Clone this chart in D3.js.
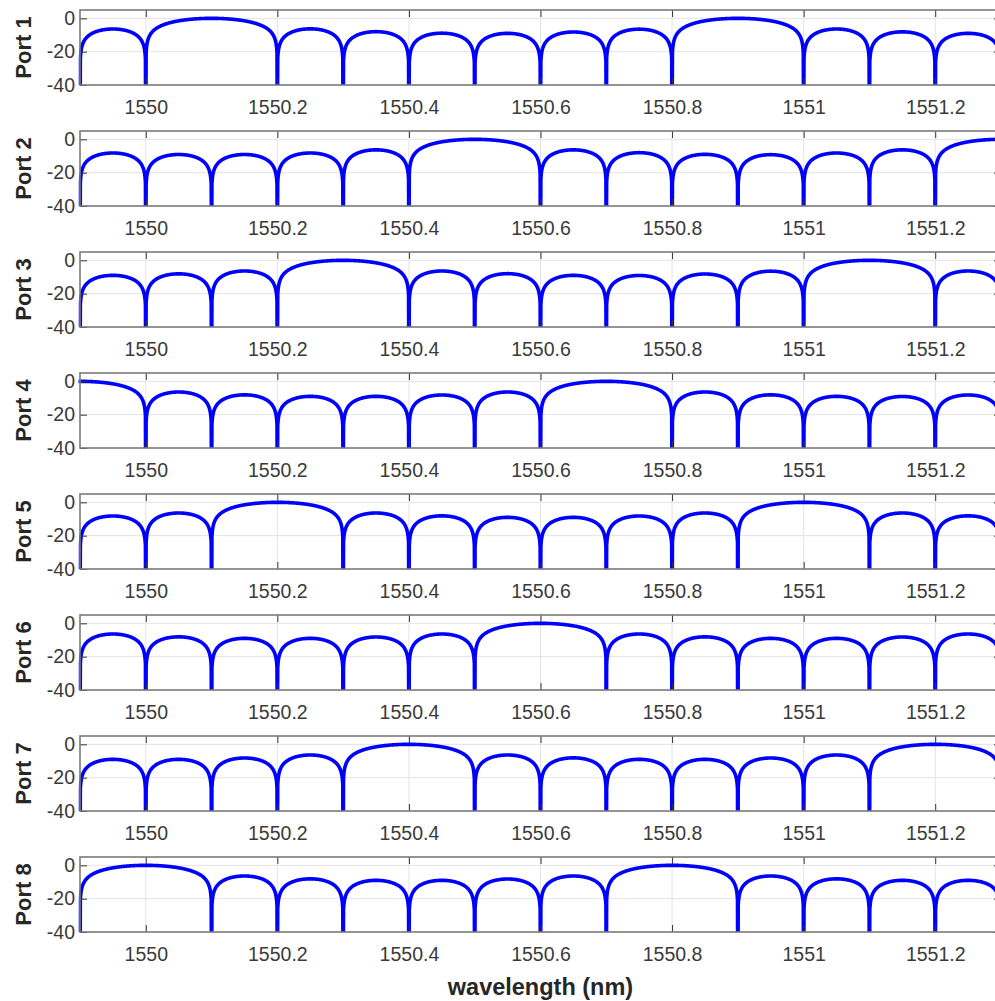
<!DOCTYPE html>
<html>
<head>
<meta charset="utf-8">
<script src="https://cdn.jsdelivr.net/npm/d3@7"></script>
<style>
  html, body { margin: 0; padding: 0; background: #fff; }
  svg { display: block; font-family: "Liberation Sans", Arial, Helvetica, sans-serif; }
</style>
</head>
<body>
<script>
// Output spectra of an 8-port wavelength router, in dB.
const portNames = ["Port 1", "Port 2", "Port 3", "Port 4", "Port 5", "Port 6", "Port 7", "Port 8"];
const wavelengthRange = [1549.9, 1551.3];   // nm
const dbRange = [-40, 5];
const xTicks = [1550, 1550.2, 1550.4, 1550.6, 1550.8, 1551, 1551.2];
const yTicks = [-40, -20, 0];

// Transmission nulls (nm) of each port; a lobe lies between two consecutive nulls.
const port1Nulls = [1549.9, 1550.0, 1550.2, 1550.3, 1550.4, 1550.5, 1550.6, 1550.7, 1550.8, 1551.0, 1551.1, 1551.2, 1551.3];
const port2Nulls = [1549.9, 1550.0, 1550.1, 1550.2, 1550.3, 1550.4, 1550.6, 1550.7, 1550.8, 1550.9, 1551.0, 1551.1, 1551.2, 1551.4];
const port3Nulls = [1549.9, 1550.0, 1550.1, 1550.2, 1550.4, 1550.5, 1550.6, 1550.7, 1550.8, 1550.9, 1551.0, 1551.2, 1551.3];
const port4Nulls = [1549.8, 1550.0, 1550.1, 1550.2, 1550.3, 1550.4, 1550.5, 1550.6, 1550.8, 1550.9, 1551.0, 1551.1, 1551.2, 1551.3];
const port5Nulls = [1549.9, 1550.0, 1550.1, 1550.3, 1550.4, 1550.5, 1550.6, 1550.7, 1550.8, 1550.9, 1551.1, 1551.2, 1551.3];
const port6Nulls = [1549.9, 1550.0, 1550.1, 1550.2, 1550.3, 1550.4, 1550.5, 1550.7, 1550.8, 1550.9, 1551.0, 1551.1, 1551.2, 1551.3];
const port7Nulls = [1549.9, 1550.0, 1550.1, 1550.2, 1550.3, 1550.5, 1550.6, 1550.7, 1550.8, 1550.9, 1551.0, 1551.1, 1551.3];
const port8Nulls = [1549.9, 1550.1, 1550.2, 1550.3, 1550.4, 1550.5, 1550.6, 1550.7, 1550.9, 1551.0, 1551.1, 1551.2, 1551.3];

// Peak level (dB) of each lobe, in the same order as the nulls above.
const port1Peaks = [-6.4, 0, -6.3, -8.0, -8.9, -9.0, -8.2, -6.5, 0, -6.4, -8.1, -9.0];
const port2Peaks = [-8.2, -9.1, -9.1, -8.2, -6.3, 0, -6.3, -8.0, -9.0, -9.2, -8.2, -6.3, 0];
const port3Peaks = [-9.0, -8.1, -6.4, 0, -6.4, -8.0, -9.0, -9.1, -8.2, -6.5, 0, -6.4];
const port4Peaks = [0, -6.4, -8.1, -9.0, -9.0, -8.2, -6.4, 0, -6.4, -8.1, -9.0, -9.1, -8.2];
const port5Peaks = [-8.2, -6.4, 0, -6.4, -8.1, -9.0, -9.0, -8.2, -6.4, 0, -6.4, -8.1];
const port6Peaks = [-6.4, -8.1, -9.0, -9.0, -8.2, -6.4, 0, -6.4, -8.1, -9.0, -9.0, -8.2, -6.4];
const port7Peaks = [-9.0, -9.0, -8.2, -6.4, 0, -6.4, -8.1, -9.0, -9.0, -8.2, -6.4, 0];
const port8Peaks = [0, -6.4, -8.1, -9.0, -9.0, -8.2, -6.4, 0, -6.4, -8.1, -9.0, -9.0];

const portNulls = [port1Nulls, port2Nulls, port3Nulls, port4Nulls, port5Nulls, port6Nulls, port7Nulls, port8Nulls];
const portPeaks = [port1Peaks, port2Peaks, port3Peaks, port4Peaks, port5Peaks, port6Peaks, port7Peaks, port8Peaks];

// ---- layout ----
const W = 995, H = 1001;
const plotLeft = 80, plotRight = 1001;
const panelTop0 = 10, panelStep = 121, panelH = 75;
const tickLen = 7;
const axisColor = "#7a7a7a", tickColor = "#333", textColor = "#3a3a3a";

const svg = d3.select("body").append("svg").attr("width", W).attr("height", H);

const x = d3.scaleLinear().domain(wavelengthRange).range([plotLeft, plotRight]);

// Sample one lobe between two nulls: arch shape with its top at the peak level.
function lobePoints(w0, w1, peak, n) {
  const pts = [];
  for (let i = 0; i <= n; i++) {
    const t = i / n;
    const s = Math.sin(Math.PI * t);
    const v = (i === 0 || i === n || s <= 0) ? -80 : peak + 10 * Math.log10(s);
    pts.push({ w: w0 + (w1 - w0) * t, db: v });
  }
  return pts;
}

portNames.forEach((name, k) => {
  const top = panelTop0 + panelStep * k;
  const bottom = top + panelH;
  const y = d3.scaleLinear().domain(dbRange).range([bottom, top]);
  const g = svg.append("g");

  // grid
  g.append("g").selectAll("line").data(xTicks).join("line")
    .attr("x1", d => x(d)).attr("x2", d => x(d))
    .attr("y1", top).attr("y2", bottom)
    .attr("stroke", "#e3e3e3").attr("stroke-width", 1);
  g.append("g").selectAll("line").data(yTicks.filter(v => v > dbRange[0])).join("line")
    .attr("x1", plotLeft).attr("x2", plotRight)
    .attr("y1", d => y(d)).attr("y2", d => y(d))
    .attr("stroke", "#e3e3e3").attr("stroke-width", 1);

  // spectrum
  const clipId = "clip" + k;
  svg.append("clipPath").attr("id", clipId).append("rect")
    .attr("x", plotLeft - 1.5).attr("y", top).attr("width", plotRight - plotLeft + 3).attr("height", panelH);

  const nulls = portNulls[k], peaks = portPeaks[k];
  let pts = [];
  for (let i = 0; i < peaks.length; i++) {
    const n = Math.round((nulls[i + 1] - nulls[i]) / 0.1 * 180);
    pts = pts.concat(lobePoints(nulls[i], nulls[i + 1], peaks[i], n));
  }
  const line = d3.line().x(d => x(d.w)).y(d => y(d.db));
  g.append("path").datum(pts)
    .attr("clip-path", `url(#${clipId})`)
    .attr("d", line)
    .attr("fill", "none").attr("stroke", "#0000ff")
    .attr("stroke-width", 3.6).attr("stroke-linejoin", "round");

  // axes (ticks point inward on all four sides)
  const fmt = d => String(d);
  const bottomAxis = d3.axisBottom(x).tickValues(xTicks).tickFormat(fmt)
    .tickSizeInner(-tickLen).tickSizeOuter(0).tickPadding(15);
  const topAxis = d3.axisTop(x).tickValues(xTicks).tickFormat("")
    .tickSizeInner(-tickLen).tickSizeOuter(0);
  const leftAxis = d3.axisLeft(y).tickValues(yTicks).tickFormat(fmt)
    .tickSizeInner(-tickLen).tickSizeOuter(0).tickPadding(5);
  const rightAxis = d3.axisRight(y).tickValues(yTicks).tickFormat("")
    .tickSizeInner(-tickLen).tickSizeOuter(0);

  const axes = [
    g.append("g").attr("transform", `translate(0,${bottom})`).call(bottomAxis),
    g.append("g").attr("transform", `translate(0,${top})`).call(topAxis),
    g.append("g").attr("transform", `translate(${plotLeft},0)`).call(leftAxis),
    g.append("g").attr("transform", `translate(${plotRight},0)`).call(rightAxis)
  ];
  axes.forEach(a => {
    a.select(".domain").remove();
    a.selectAll(".tick line").attr("stroke", tickColor).attr("stroke-width", 1);
    a.selectAll(".tick text").attr("fill", textColor)
      .style("font-size", "19.5px").style("font-family", "'Liberation Sans', Arial, sans-serif");
  });

  // box
  g.append("rect").attr("x", plotLeft).attr("y", top)
    .attr("width", plotRight - plotLeft).attr("height", panelH)
    .attr("fill", "none").attr("stroke", axisColor).attr("stroke-width", 1.6);

  // port label
  g.append("text")
    .attr("transform", `translate(31,${top + panelH / 2}) rotate(-90)`)
    .attr("text-anchor", "middle")
    .attr("fill", "#262626")
    .style("font-size", "22px").style("font-weight", "bold")
    .text(name);
});

svg.append("text")
  .attr("x", (plotLeft + plotRight) / 2).attr("y", 995)
  .attr("text-anchor", "middle").attr("fill", "#262626")
  .style("font-size", "23.5px").style("font-weight", "bold")
  .text("wavelength (nm)");
</script>
</body>
</html>
